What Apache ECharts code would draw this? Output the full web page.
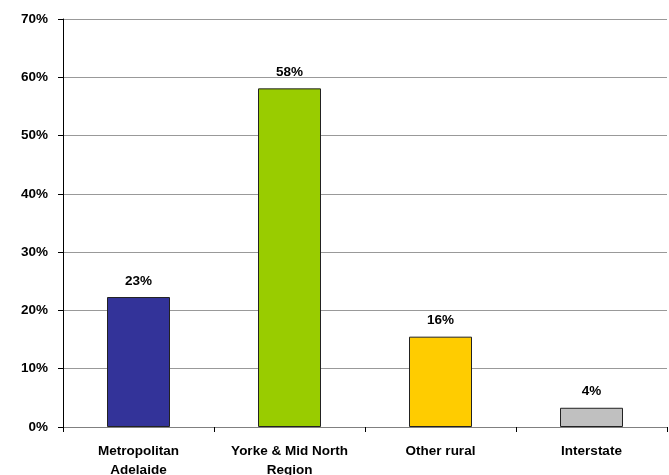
<!DOCTYPE html>
<html><head><meta charset="utf-8">
<script src="https://cdn.jsdelivr.net/npm/echarts@6/dist/echarts.min.js"></script>
<style>html,body{margin:0;padding:0;background:#fff}#c{width:669px;height:475px}</style>
</head><body><div id="c"></div>
<script>
const categories = ["Metropolitan\nAdelaide", "Yorke & Mid North\nRegion", "Other rural", "Interstate"];
const values = [22.3, 58.1, 15.5, 3.3];
const valueLabels = ["23%", "58%", "16%", "4%"];
const barColors = ["#333399", "#99CC00", "#FFCC00", "#C0C0C0"];
const yTicks = [0, 10, 20, 30, 40, 50, 60, 70];

const chart = echarts.init(document.getElementById('c'));
const font = 'Liberation Sans, Arial, sans-serif';
chart.setOption({
  animation: false,
  grid: { left: 63, right: 2, top: 19, bottom: 48, containLabel: false, outerBoundsMode: 'none' },
  xAxis: {
    type: 'category',
    data: categories,
    axisLine: { lineStyle: { color: '#808080', width: 1 } },
    axisTick: { show: true, length: 5, interval: 0, lineStyle: { color: '#000' } },
    axisLabel: { interval: 0, hideOverlap: false, color: '#000', fontFamily: font, fontWeight: 'bold', fontSize: 13.5, margin: 15, lineHeight: 19 }
  },
  yAxis: {
    type: 'value',
    min: yTicks[0], max: yTicks[yTicks.length - 1], interval: 10,
    axisLine: { show: true, lineStyle: { color: '#000', width: 1 } },
    axisTick: { show: true, length: 5, lineStyle: { color: '#000' } },
    splitLine: { lineStyle: { color: '#999', width: 1 } },
    axisLabel: { color: '#000', fontFamily: font, fontWeight: 'bold', fontSize: 13.5, margin: 15, formatter: v => v + '%' }
  },
  series: [{
    type: 'bar',
    barWidth: 63,
    data: values.map((v, i) => ({
      value: v,
      itemStyle: { color: barColors[i], borderColor: '#222', borderWidth: 1 },
      label: { formatter: valueLabels[i] }
    })),
    label: { show: true, position: 'top', distance: 9, color: '#000', fontFamily: font, fontWeight: 'bold', fontSize: 13.5 }
  }]
});
</script>
</body></html>
